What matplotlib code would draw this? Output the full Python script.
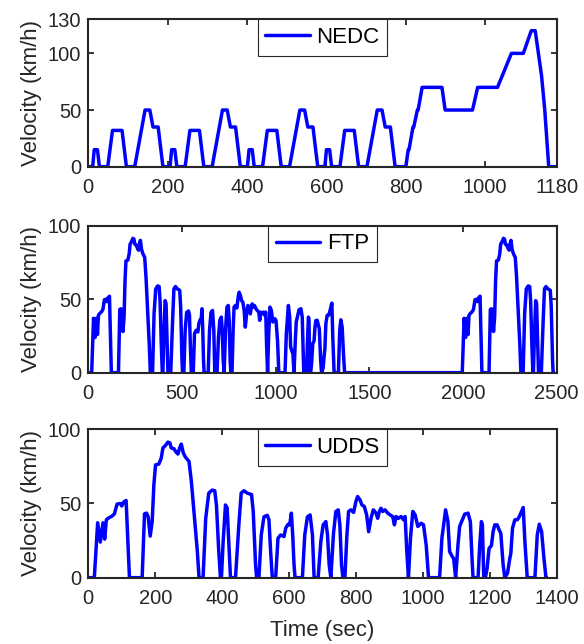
import numpy as np
import matplotlib
matplotlib.use("Agg")
import matplotlib.pyplot as plt

plt.rcParams['font.family'] = ['Liberation Sans', 'DejaVu Sans']

###############################################################################
################################## data #######################################
###############################################################################
# NEDC: 4 x ECE-15 urban cycles + EUDC (breakpoints, sec / km/h)
nedc_t = [0, 11, 15, 23, 28, 49, 61, 85, 96, 117, 143, 155, 163, 176, 188,
          195, 206, 210, 218, 223, 244, 256, 280, 291, 312, 338, 350, 358, 371, 383,
          390, 401, 405, 413, 418, 439, 451, 475, 486, 507, 533, 545, 553, 566, 578,
          585, 596, 600, 608, 613, 634, 646, 670, 681, 702, 728, 740, 748, 761, 773,
          800, 806, 808, 818, 820, 829, 831, 841, 891, 899, 968, 981, 1031, 1066,
          1096, 1116, 1126, 1142, 1150, 1160, 1180]
nedc_v = [0, 0, 15, 15, 0, 0, 32, 32, 0, 0, 50, 50, 35, 35, 0,
          0, 0, 15, 15, 0, 0, 32, 32, 0, 0, 50, 50, 35, 35, 0,
          0, 0, 15, 15, 0, 0, 32, 32, 0, 0, 50, 50, 35, 35, 0,
          0, 0, 15, 15, 0, 0, 32, 32, 0, 0, 50, 50, 35, 35, 0,
          0, 15, 15, 35, 35, 50, 50, 70, 70, 50, 50, 70, 70, 100,
          100, 120, 120, 80, 50, 0, 0]

# UDDS
udds_t = [0, 18, 28, 36, 44, 49, 54, 59, 71, 78, 86, 96, 100, 106, 113, 123,
          161, 168, 174, 179, 185, 191, 196, 201, 211, 218, 223, 231, 238, 244,
          248, 256, 261, 268, 273, 278, 284, 291, 301, 308, 314, 321, 326, 331,
          343, 351, 360, 370, 378, 383, 390, 395, 398, 403, 410, 415, 420, 425,
          440, 450, 457, 465, 475, 488, 493, 500, 503, 510, 517, 525, 535, 540,
          545, 550, 560, 567, 575, 585, 590, 597, 602, 607, 611, 615, 618, 640,
          647, 655, 663, 670, 675, 687, 695, 702, 710, 715, 720, 725, 733, 740,
          747, 752, 757, 761, 767, 773, 778, 785, 793, 800, 805, 812, 818, 825,
          832, 838, 845, 852, 860, 865, 870, 875, 880, 887, 895, 902, 910, 915,
          920, 927, 935, 942, 947, 952, 957, 963, 970, 977, 985, 995, 1002, 1010,
          1017, 1050, 1057, 1068, 1075, 1080, 1088, 1092, 1098, 1105, 1110, 1118,
          1125, 1135, 1142, 1147, 1150, 1165, 1170, 1175, 1178, 1182, 1187, 1192,
          1198, 1205, 1210, 1215, 1222, 1228, 1233, 1240, 1245, 1253, 1260, 1263,
          1268, 1275, 1282, 1287, 1295, 1300, 1305, 1312, 1335, 1342, 1348, 1355,
          1362, 1368, 1369]
udds_v = [0, 0, 37, 24, 37, 26, 39, 40, 41.5, 43, 49.6, 50, 48.3, 51, 52, 0,
          0, 43, 43.5, 41, 28, 38, 62.6, 76, 76.6, 80.6, 87.4, 89.2, 91.4, 90.8,
          87.4, 86.9, 85, 83.3, 87.4, 90, 84, 81, 78.4, 65, 49, 31, 17.6, 0,
          0, 40, 57, 59, 58.6, 49, 17.6, 0, 0, 24, 49, 47, 24, 0,
          0, 35.6, 57, 58.6, 57, 56, 44.6, 8.6, 0, 0, 28.8, 41, 42, 39,
          17.6, 0, 0, 26.6, 28.8, 27.7, 33.3, 36, 35.6, 43.5, 28.8, 8.6, 0, 0,
          28.8, 41, 42.3, 28.8, 0, 0, 24.3, 35.6, 37.8, 28.8, 8.6, 0, 30, 44.6,
          45.7, 35.6, 8.6, 0, 0, 28.8, 44.6, 45.7, 44, 51.4, 54.7, 52.5, 49, 48,
          42.3, 31, 40, 45.7, 43.5, 40, 44.6, 46.8, 44.6, 45.7, 43.5, 42.3, 41.2, 35.6,
          41.2, 40, 41.2, 39, 41.2, 17.6, 0, 26.6, 44.6, 42.3, 34.5, 36.7, 35.6, 22,
          0, 0, 26.6, 45.7, 37.8, 17.6, 14.2, 13, 0, 22, 34.5, 39,
          42.8, 43.5, 37.8, 13, 0, 0, 22, 37.8, 35.6, 0, 0, 6.3,
          19.8, 21.6, 31, 35.6, 35.6, 32.2, 30, 8.6, 0, 3, 13, 16.4,
          33.3, 39, 39, 40.5, 44.6, 47.3, 24.3, 0, 0, 28.8, 36, 31,
          13, 0, 0]

# FTP-75: full UDDS, soak, then hot start (first 505 s of UDDS)
ftp_hot_start = 1978
ftp_hot_len = 505

udds_t = np.array(udds_t, dtype=float)
udds_v = np.array(udds_v, dtype=float)
hot = udds_t <= ftp_hot_len
ftp_t = np.concatenate([udds_t, udds_t[hot] + ftp_hot_start, [ftp_hot_start + ftp_hot_len]])
ftp_v = np.concatenate([udds_v, udds_v[hot], [0]])

###############################################################################
################################## plot #######################################
###############################################################################
fig = plt.figure(figsize=(5.84, 6.44), dpi=100)

panels = [
    (nedc_t, nedc_v, 'NEDC', [0, 1180], [0, 200, 400, 600, 800, 1000, 1180],
     [0, 130], [0, 50, 100, 130], [0.1512, 0.7412, 0.8020, 0.2287]),
    (ftp_t, ftp_v, 'FTP', [0, 2500], [0, 500, 1000, 1500, 2000, 2500],
     [0, 100], [0, 50, 100], [0.1512, 0.4213, 0.8020, 0.2283]),
    (udds_t, udds_v, 'UDDS', [0, 1400], [0, 200, 400, 600, 800, 1000, 1200, 1400],
     [0, 100], [0, 50, 100], [0.1512, 0.1030, 0.8020, 0.2304]),
]

for t, v, name, xl, xt, yl, yt, pos in panels:
    ax = fig.add_axes(pos)
    ax.plot(t, v, color=(0, 0, 1), linewidth=2.5, label=name,
            solid_joinstyle='round', solid_capstyle='round')
    ax.set_xlim(xl)
    ax.set_ylim(yl)
    ax.set_xticks(xt)
    ax.set_yticks(yt)
    ax.tick_params(direction='in', length=4, width=1.3, top=True, right=True,
                   labelsize=14.5, colors='#262626')
    ax.tick_params(axis='x', pad=8)
    ax.tick_params(axis='y', pad=5)
    for s in ax.spines.values():
        s.set_linewidth(1.5)
        s.set_color('#262626')
    ax.set_ylabel('Velocity (km/h)', fontsize=16, color='#262626', labelpad=4)
    leg = ax.legend(loc='upper center', borderaxespad=0, fontsize=16,
                    handlelength=2.0, handletextpad=0.3, borderpad=0.35,
                    fancybox=False, framealpha=1)
    leg.get_frame().set_edgecolor('#262626')
    leg.get_frame().set_linewidth(0.8)
    if name == 'UDDS':
        ax.set_xlabel('Time (sec)', fontsize=16, color='#262626', labelpad=9)

fig.savefig('out.png', dpi=100)
